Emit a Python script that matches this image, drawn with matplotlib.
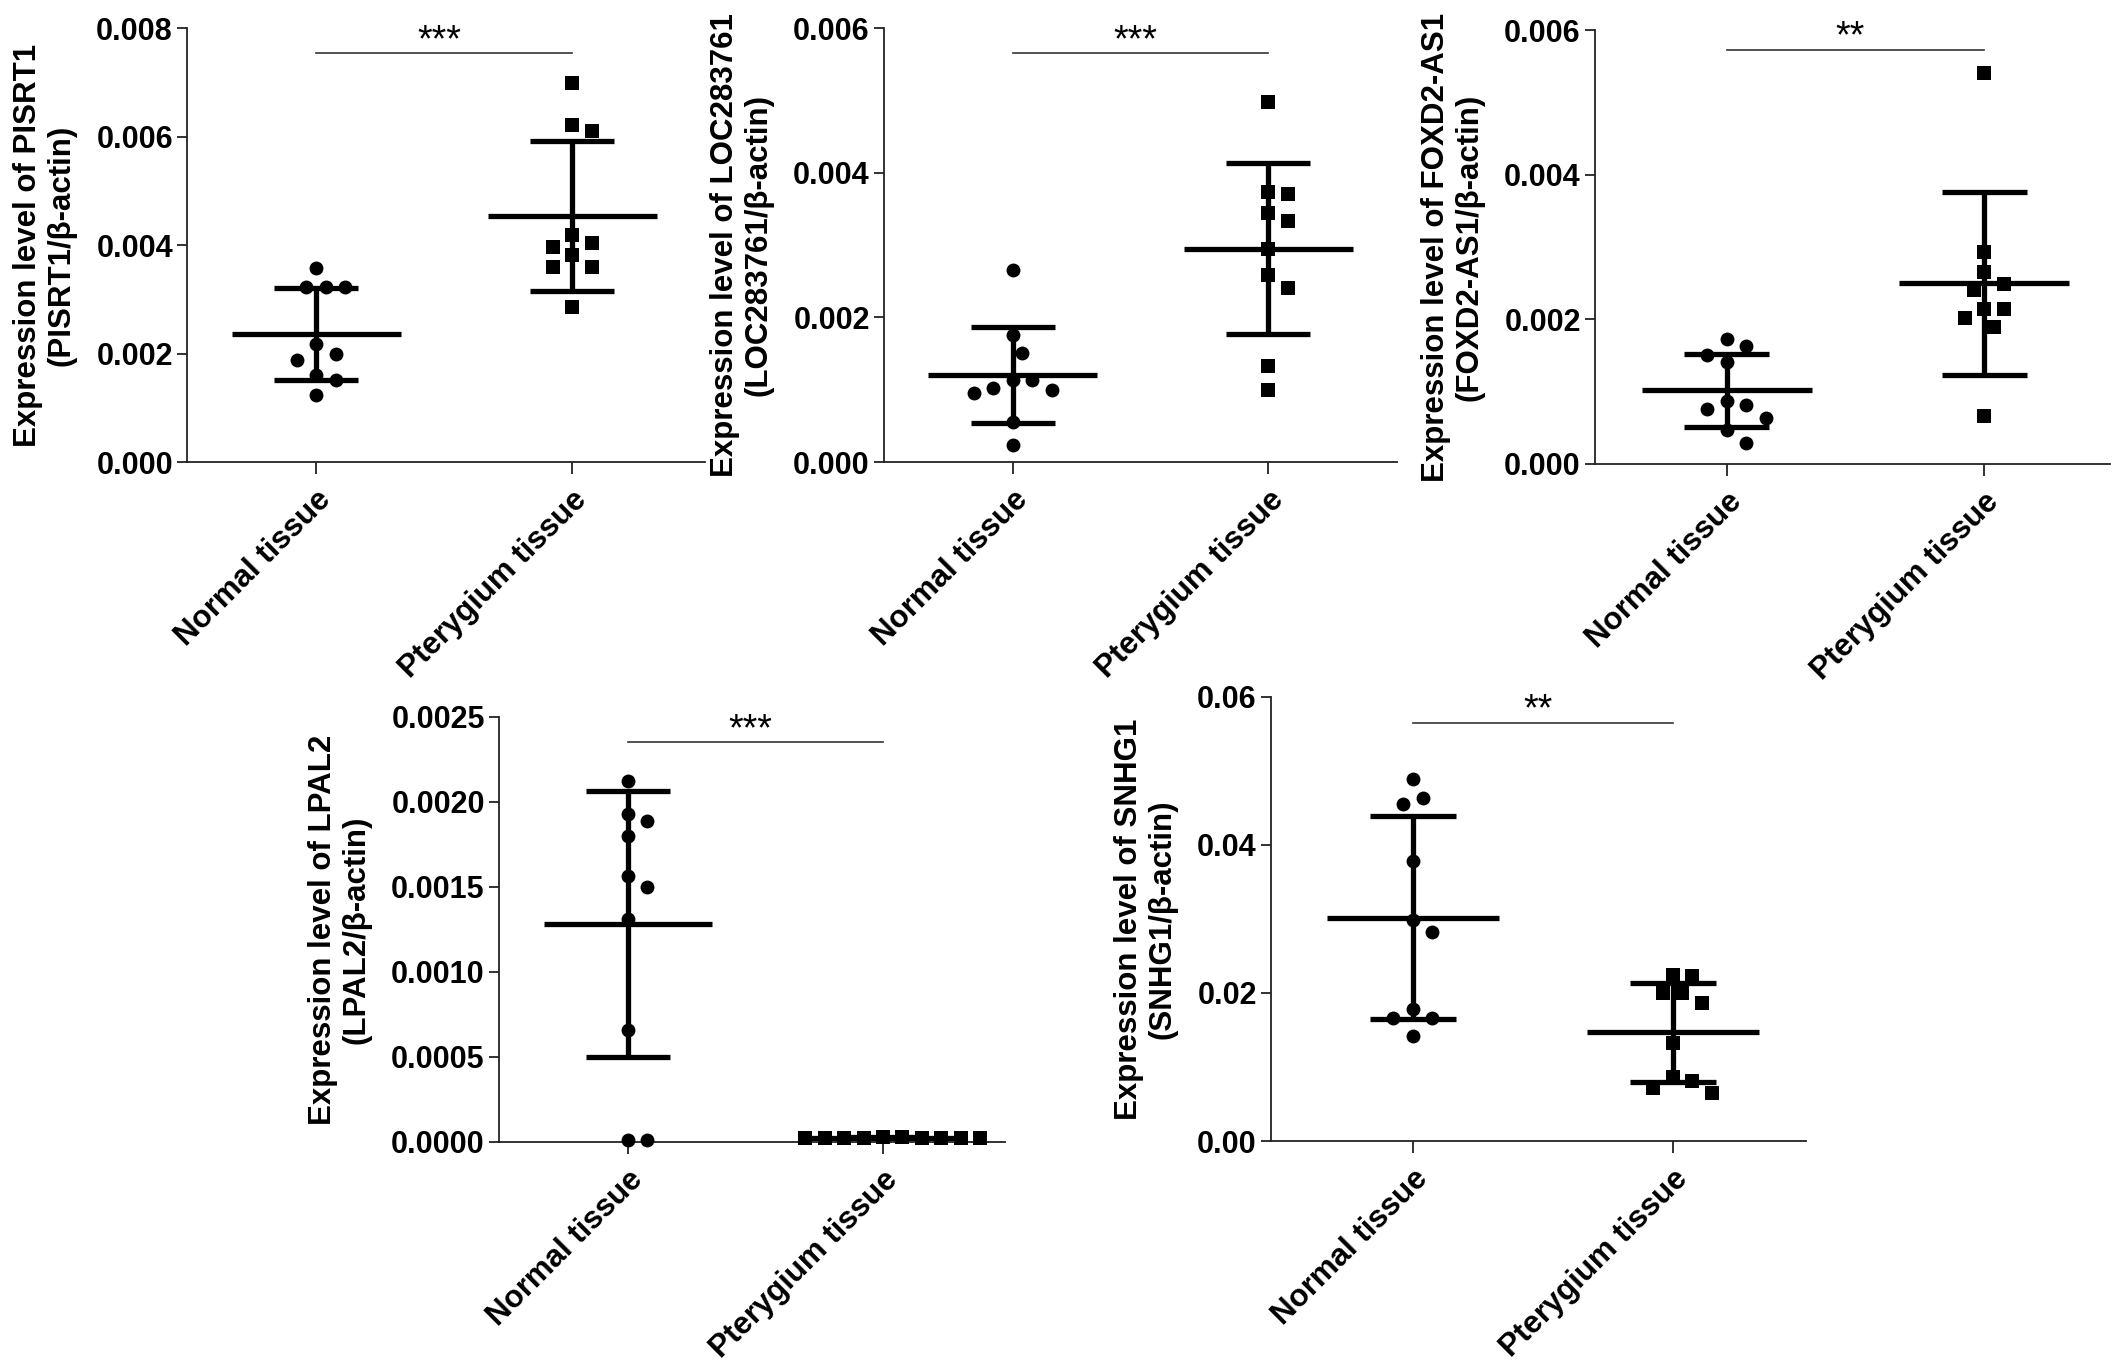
import numpy as np
import matplotlib
matplotlib.use('Agg')
import matplotlib.pyplot as plt
from matplotlib import font_manager
from matplotlib.ticker import FormatStrFormatter

# group names (x axis)
groups = ['Normal tissue', 'Pterygium tissue']

# values (expression relative to beta-actin)
pisrt1_normal = [0.00357, 0.00323, 0.00323, 0.00323, 0.00218, 0.00199, 0.00188, 0.00160, 0.00152, 0.00124]
pisrt1_ptery = [0.00698, 0.00622, 0.00610, 0.00418, 0.00404, 0.00397, 0.00382, 0.00360, 0.00359, 0.00286]
loc_normal = [0.00265, 0.00176, 0.00151, 0.00114, 0.00114, 0.00103, 0.00099, 0.00095, 0.00055, 0.00023]
loc_ptery = [0.00498, 0.00374, 0.00371, 0.00344, 0.00333, 0.00294, 0.00258, 0.00241, 0.00133, 0.00099]
foxd_normal = [0.00173, 0.00163, 0.00151, 0.00141, 0.00087, 0.00081, 0.00076, 0.00064, 0.00047, 0.00029]
foxd_ptery = [0.00540, 0.00293, 0.00265, 0.00249, 0.00241, 0.00214, 0.00214, 0.00202, 0.00190, 0.00066]
lpal2_normal = [0.002121, 0.001930, 0.001885, 0.001797, 0.001565, 0.001497, 0.001310, 0.000658, 0.00001, 0.00001]
lpal2_ptery = [0.000028, 0.000027, 0.000026, 0.000026, 0.000025, 0.000025, 0.000025, 0.000024, 0.000024, 0.000023]
snhg1_normal = [0.0489, 0.0464, 0.0455, 0.0378, 0.0298, 0.0283, 0.0178, 0.0166, 0.0166, 0.0142]
snhg1_ptery = [0.02245, 0.0223, 0.01997, 0.01997, 0.0186, 0.0132, 0.0087, 0.00816, 0.00712, 0.00654]

# mean and SD lines as drawn
pisrt1_mean, pisrt1_sd = [0.00236, 0.004535], [0.000855, 0.001375]
loc_mean, loc_sd = [0.00120, 0.00295], [0.000665, 0.00118]
foxd_mean, foxd_sd = [0.001017, 0.002497], [0.00051, 0.00127]
lpal2_mean, lpal2_sd = [0.00128, 0.000025], [0.000782, 0.000003]
snhg1_mean, snhg1_sd = [0.0302, 0.0147], [0.0137, 0.0067]

genes = ['PISRT1', 'LOC283761', 'FOXD2-AS1', 'LPAL2', 'SNHG1']
stars = ['***', '***', '**', '***', '**']
sig_y = [0.00754, 0.00565, 0.00573, 0.00235, 0.0565]
y_top = [0.008, 0.006, 0.006, 0.0025, 0.06]
y_step = [0.002, 0.002, 0.002, 0.0005, 0.02]
y_fmt = ['%.3f', '%.3f', '%.3f', '%.4f', '%.2f']

# layout: [left, bottom, width, height] and xlim for each panel
rects = [[0.0880, 0.6615, 0.2437, 0.3179],
         [0.4158, 0.6615, 0.2413, 0.3179],
         [0.7502, 0.6601, 0.2422, 0.3179],
         [0.2347, 0.1634, 0.2380, 0.3114],
         [0.5978, 0.1641, 0.2516, 0.3253]]
xlims = [(-0.504, 1.52), (-0.504, 1.504), (-0.512, 1.488), (-0.506, 1.478), (-0.546, 1.512)]


def has_font(name):
    try:
        font_manager.findfont(font_manager.FontProperties(family=name), fallback_to_default=False)
        return True
    except ValueError:
        return False


base_font = 'Liberation Sans' if has_font('Liberation Sans') else 'DejaVu Sans'
if has_font('Liberation Sans Narrow'):
    tick_font, tick_size = 'Liberation Sans Narrow', 27
else:
    tick_font, tick_size = base_font, 22

plt.rcParams['font.family'] = [base_font, 'DejaVu Sans']

DPI = 100
MS = 10
LW = 3.8


def swarm_offsets(ax, x0, values, diam_px):
    # simple greedy swarm in pixel space so markers do not overlap
    trans = ax.transData
    pts = trans.transform(np.column_stack([np.full(len(values), x0), values]))
    ys = pts[:, 1]
    px_per_unit = trans.transform((1, 0))[0] - trans.transform((0, 0))[0]
    min_d = 1.4 * diam_px
    step = min_d / 2
    ks = [0]
    for k in range(1, 40):
        ks += [k, -k]
    placed = []
    offs = []
    for y in ys:
        for k in ks:
            x = k * step
            if all((x - px) ** 2 + (y - py) ** 2 >= min_d ** 2 for px, py in placed):
                break
        placed.append((x, y))
        offs.append(x / px_per_unit)
    return np.array(offs)


data = [(pisrt1_normal, pisrt1_ptery), (loc_normal, loc_ptery), (foxd_normal, foxd_ptery),
        (lpal2_normal, lpal2_ptery), (snhg1_normal, snhg1_ptery)]
means = [pisrt1_mean, loc_mean, foxd_mean, lpal2_mean, snhg1_mean]
sds = [pisrt1_sd, loc_sd, foxd_sd, lpal2_sd, snhg1_sd]

fig = plt.figure(figsize=(21.26, 13.65), dpi=DPI)

for p in range(5):
    ax = fig.add_axes(rects[p])
    ax.set_xlim(*xlims[p])
    ax.set_ylim(0, y_top[p])

    for s in ['top', 'right']:
        ax.spines[s].set_visible(False)
    for s in ['left', 'bottom']:
        ax.spines[s].set_linewidth(1.3)
        ax.spines[s].set_color('#222222')

    yt = np.arange(0, y_top[p] + y_step[p] / 2, y_step[p])
    ax.set_yticks(yt)
    ax.yaxis.set_major_formatter(FormatStrFormatter(y_fmt[p]))
    ax.set_xticks([0, 1])
    ax.set_xticklabels(groups, rotation=45, ha='right', rotation_mode='anchor',
                       fontsize=22.5, fontweight='bold')
    ax.tick_params(axis='y', length=7.2, width=1.3, pad=3, color='#222222')
    ax.tick_params(axis='x', length=8.6, width=1.3, pad=8, color='#222222')
    for lab in ax.get_yticklabels():
        lab.set_fontfamily([tick_font, base_font])
        lab.set_fontsize(tick_size)
        lab.set_fontweight('bold')

    ax.set_ylabel('Expression level of %s\n(%s/β-actin)' % (genes[p], genes[p]),
                  fontsize=22.5, fontweight='bold', labelpad=14, linespacing=1.15)

    diam_px = MS * DPI / 72.0
    for i in range(2):
        vals = np.array(data[p][i])
        m, sd = means[p][i], sds[p][i]
        # mean line, SD whisker and caps
        ax.hlines(m, i - 0.33, i + 0.33, color='black', lw=LW, zorder=2)
        ax.vlines(i, m - sd, m + sd, color='black', lw=LW, zorder=2)
        ax.hlines([m - sd, m + sd], i - 0.165, i + 0.165, color='black', lw=LW, zorder=2)
        offs = swarm_offsets(ax, i, vals, diam_px)
        ax.plot(i + offs, vals, linestyle='none', marker='o' if i == 0 else 's',
                markersize=MS if i == 0 else MS - 0.5, color='black',
                markeredgewidth=0, zorder=3, clip_on=False)

    # significance bar
    ax.plot([0, 1], [sig_y[p], sig_y[p]], color='#333333', lw=1.2, clip_on=False)
    ax.annotate(stars[p], xy=(0.48, sig_y[p]), xytext=(0, 1.5), textcoords='offset points',
                ha='center', va='baseline', fontsize=27, annotation_clip=False)

fig.savefig('out.png', dpi=DPI)
